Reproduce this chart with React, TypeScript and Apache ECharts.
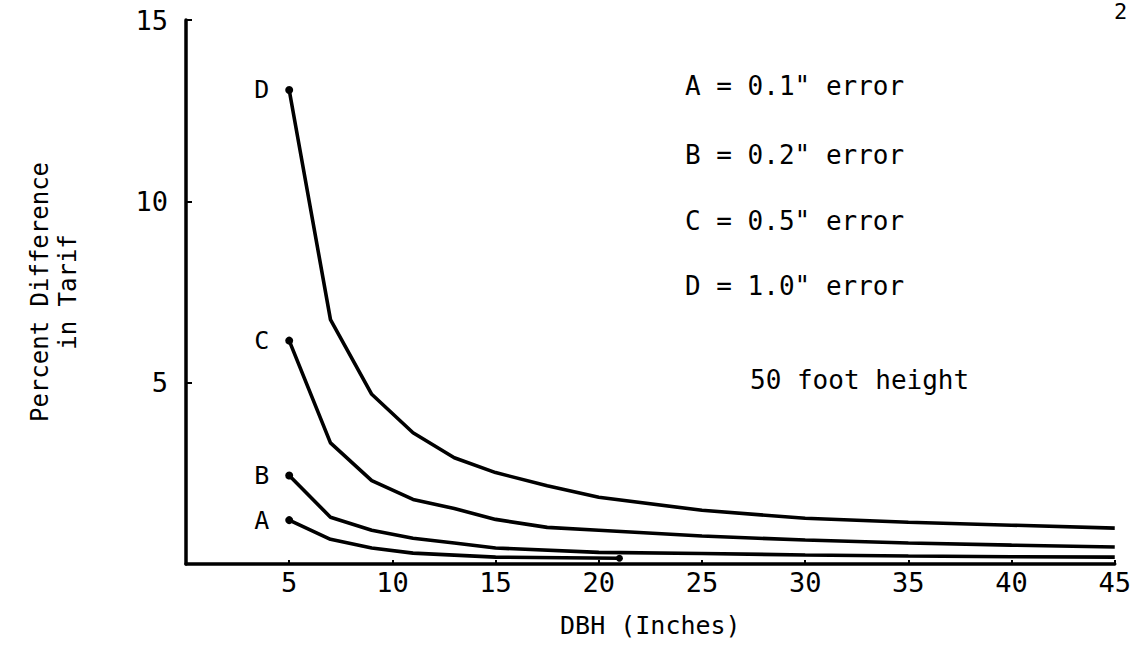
import React, { useEffect, useRef } from "react";
import * as echarts from "echarts";

const seriesNames = ["A", "B", "C", "D"];
const xA = [5, 7, 9, 11, 15, 21];
const yA = [1.21, 0.68, 0.44, 0.3, 0.19, 0.16];
const xB = [5, 7, 9, 11, 13, 15, 20, 25, 30, 35, 40, 45];
const yB = [2.44, 1.29, 0.93, 0.71, 0.58, 0.44, 0.32, 0.29, 0.25, 0.22, 0.2, 0.19];
const xC = [5, 7, 9, 11, 13, 15, 17.5, 20, 25, 30, 35, 40, 45];
const yC = [6.16, 3.34, 2.3, 1.78, 1.53, 1.23, 1.01, 0.93, 0.77, 0.66, 0.58, 0.52, 0.47];
const xD = [5, 7, 9, 11, 13, 15, 17.5, 20, 25, 30, 35, 40, 45];
const yD = [13.07, 6.74, 4.68, 3.62, 2.93, 2.52, 2.16, 1.84, 1.48, 1.26, 1.15, 1.07, 0.99];
const legendLines = ['A = 0.1" error', 'B = 0.2" error', 'C = 0.5" error', 'D = 1.0" error'];
const noteText = "50 foot height";
const pageNumber = "2";
const xAxisTitle = "DBH (Inches)";
const yAxisTitle = "Percent Difference\nin Tarif";

const FONT = "DejaVu Sans Mono";

function buildData(name: string, xs: number[], ys: number[], endDot: boolean) {
  return xs.map((x, i) => {
    const item: any = { value: [x, ys[i]] };
    if (i === 0) {
      item.symbolSize = 8;
      item.label = {
        show: true,
        formatter: name,
        position: "left",
        distance: 16,
        color: "#000",
        fontFamily: FONT,
        fontSize: 25,
      };
    } else if (endDot && i === xs.length - 1) {
      item.symbolSize = 7;
    } else {
      item.symbolSize = 0;
    }
    return item;
  });
}

export default function App() {
  const ref = useRef<HTMLDivElement>(null);
  useEffect(() => {
    document.body.style.margin = "0";
    const chart = echarts.init(ref.current!, null, { renderer: "svg" });
    const allX = [xA, xB, xC, xD];
    const allY = [yA, yB, yC, yD];
    const series = seriesNames.map((n, k) => ({
      type: "line",
      name: n,
      data: buildData(n, allX[k], allY[k], n === "A"),
      symbol: "circle",
      showSymbol: true,
      lineStyle: { color: "#000", width: 3.6 },
      itemStyle: { color: "#000" },
      smooth: false,
      silent: true,
    }));
    const graphics: any[] = legendLines.map((t, i) => ({
      type: "text",
      left: 685,
      top: [88, 157, 223, 288][i] - 15,
      style: { text: t, fill: "#000", font: `26px "${FONT}"` },
    }));
    graphics.push({
      type: "text",
      left: 750,
      top: 382 - 15,
      style: { text: noteText, fill: "#000", font: `26px "${FONT}"` },
    });
    graphics.push({
      type: "text",
      left: 1114,
      top: 0,
      style: { text: pageNumber, fill: "#000", font: `22px "${FONT}"` },
    });
    chart.setOption({
      animation: false,
      backgroundColor: "#fff",
      grid: { left: 186, right: 14, top: 20, bottom: 99, containLabel: false },
      xAxis: {
        type: "value",
        min: 0,
        max: 45,
        interval: 5,
        name: xAxisTitle,
        nameLocation: "middle",
        nameGap: 49,
        nameTextStyle: { color: "#000", fontFamily: FONT, fontSize: 25 },
        axisLine: { lineStyle: { color: "#000", width: 3.5 } },
        axisTick: { show: true, inside: true, length: 4, lineStyle: { color: "#000", width: 2 } },
        splitLine: { show: false },
        axisLabel: { showMinLabel: false, color: "#000", fontFamily: FONT, fontSize: 27, margin: 5 },
      },
      yAxis: {
        type: "value",
        min: 0,
        max: 15,
        interval: 5,
        name: yAxisTitle,
        nameLocation: "middle",
        nameGap: 104,
        nameTextStyle: { color: "#000", fontFamily: FONT, fontSize: 24, lineHeight: 28 },
        axisLine: { lineStyle: { color: "#000", width: 3.5 } },
        axisTick: { show: true, inside: true, length: 6, lineStyle: { color: "#000", width: 2 } },
        splitLine: { show: false },
        axisLabel: { showMinLabel: false, color: "#000", fontFamily: FONT, fontSize: 27, margin: 18 },
      },
      graphic: graphics,
      series,
    });
    return () => chart.dispose();
  }, []);
  return <div ref={ref} style={{ width: 1134, height: 663 }} />;
}
